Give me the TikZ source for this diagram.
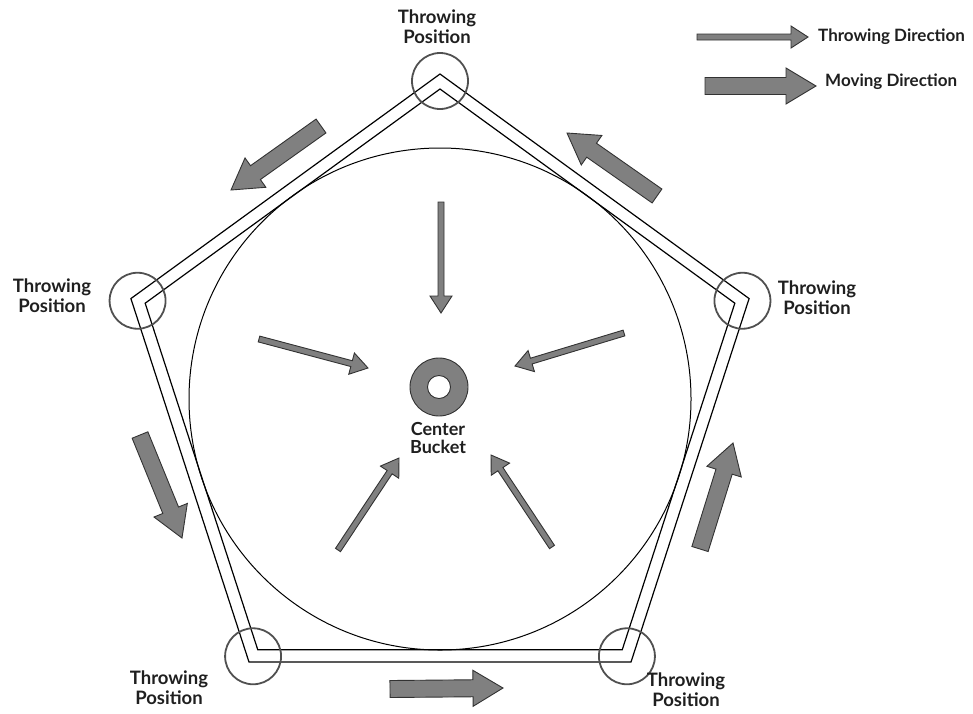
\documentclass[tikz,border=0pt]{standalone}
\usepackage{fontspec}
\setmainfont{Lato}
\usetikzlibrary{calc}

\definecolor{fillgray}{RGB}{128,128,128}
\definecolor{edgegray}{RGB}{50,50,50}
\definecolor{ringgray}{RGB}{80,80,80}

\tikzset{
  arrowbody/.style={draw=edgegray, fill=fillgray, line width=0.9pt, line join=miter},
  frameline/.style={draw=black, line width=1.2pt, line join=miter},
  spotring/.style={draw=ringgray, line width=1.8pt},
  lbl/.style={font=\bfseries\fontsize{18.5}{20}\selectfont, text=black!88, align=center, inner sep=0pt},
  legendlbl/.style={font=\bfseries\fontsize{17}{18}\selectfont, text=black!88, anchor=west, inner sep=0pt}
}

% block arrow: #1 tail, #2 tip, #3 shaft half width, #4 head half width, #5 head length
\newcommand\blockarrow[5]{%
  \path ($(#2)!#5!(#1)$) coordinate (hb);
  \draw[arrowbody] ($(#1)!#3!90:(#2)$) -- ($(hb)!#3!90:(#2)$) -- ($(hb)!#4!90:(#2)$)
    -- (#2) -- ($(hb)!#4!-90:(#2)$) -- ($(hb)!#3!-90:(#2)$) -- ($(#1)!#3!-90:(#2)$) -- cycle;
}
\newcommand\throwarrow[2]{\blockarrow{#1}{#2}{3pt}{11pt}{17pt}}
\newcommand\movearrow[2]{\blockarrow{#1}{#2}{8.5pt}{18pt}{30pt}}

\begin{document}
\begin{tikzpicture}[x=1pt, y=-1pt]
\useasboundingbox (0,0) rectangle (973,713);

\coordinate (c) at (440,399);

% field: double-line pentagon and its inscribed circle
\draw[frameline] ($(c)+(270:325)$) -- ($(c)+(198:325)$) -- ($(c)+(126:325)$)
  -- ($(c)+(54:325)$) -- ($(c)+(342:325)$) -- cycle;
\draw[frameline] ($(c)+(270:310)$) -- ($(c)+(198:310)$) -- ($(c)+(126:310)$)
  -- ($(c)+(54:310)$) -- ($(c)+(342:310)$) -- cycle;
\draw[black, line width=1pt] (c) circle[radius=251];

% throwing spots at the corners
\foreach \a/\n in {270/top, 198/left, 126/bl, 54/br, 342/right}
  \draw[spotring] ($(c)+(\a:318)$) coordinate (spot-\n) circle[radius=28];

\node[lbl] (ltop)   at (437,27)  {Throwing\\Position};
\node[lbl] (lleft)  at (52,296)  {Throwing\\Position};
\node[lbl] (lright) at (817,298) {Throwing\\Position};
\node[lbl] (lbl)    at (169,688) {Throwing\\Position};
\node[lbl] (lbr)    at (686,690) {Throwing\\Position};

% center bucket
\coordinate (bucket) at (439,387);
\draw[arrowbody, even odd rule] (bucket) circle[radius=29] (bucket) circle[radius=11.5];
\node[lbl, font=\bfseries\fontsize{18}{18}\selectfont] (lbucket) at (438,438) {Center\\Bucket};

% throwing directions towards the bucket
\coordinate (t1a) at (441,202); \coordinate (t1b) at (441,313);
\coordinate (t2a) at (259,339); \coordinate (t2b) at (368,368);
\coordinate (t3a) at (624,333); \coordinate (t3b) at (515,366);
\coordinate (t4a) at (338,550); \coordinate (t4b) at (399,458);
\coordinate (t5a) at (552,547); \coordinate (t5b) at (491,455);
\throwarrow{t1a}{t1b}
\throwarrow{t2a}{t2b}
\throwarrow{t3a}{t3b}
\throwarrow{t4a}{t4b}
\throwarrow{t5a}{t5b}

% moving direction around the field
\coordinate (m1a) at (321,126); \coordinate (m1b) at (231,190);
\coordinate (m2a) at (140,435); \coordinate (m2b) at (182,538);
\coordinate (m3a) at (390,689); \coordinate (m3b) at (503,688);
\coordinate (m4a) at (700,549); \coordinate (m4b) at (733,443);
\coordinate (m5a) at (657,196); \coordinate (m5b) at (567,133);
\movearrow{m1a}{m1b}
\movearrow{m2a}{m2b}
\movearrow{m3a}{m3b}
\movearrow{m4a}{m4b}
\movearrow{m5a}{m5b}

% legend
\coordinate (g1a) at (697,37); \coordinate (g1b) at (808,37);
\coordinate (g2a) at (705,86); \coordinate (g2b) at (816,86);
\throwarrow{g1a}{g1b}
\movearrow{g2a}{g2b}
\node[legendlbl] (lg1) at (818,37) {Throwing Direction};
\node[legendlbl] (lg2) at (825,82) {Moving Direction};
\end{tikzpicture}
\end{document}
